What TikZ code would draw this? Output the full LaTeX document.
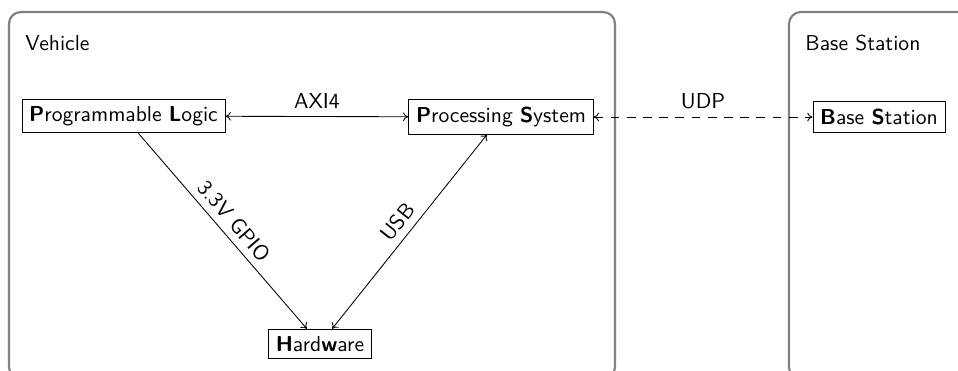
\documentclass[tikz,border=0pt]{standalone}
\usetikzlibrary{arrows.meta}
\begin{document}
\begin{tikzpicture}[x=0.463pt,y=-0.463pt,font=\sffamily,
  blockbox/.style={draw=black,line width=0.4pt,inner sep=3.33pt},
  groupbox/.style={draw=black!50,line width=1pt,rounded corners=5.5pt},
  grouplabel/.style={anchor=base west,inner sep=0pt},
  link/.style={line width=0.4pt,{To[length=2.5pt,width=4pt]}-{To[length=2.5pt,width=4pt]}},
  single/.style={line width=0.4pt,-{To[length=2.5pt,width=4pt]}}]
\useasboundingbox (0,0) rectangle (958,370);
\clip (0,0) rectangle (958,370);
\draw[groupbox] (9,12) rectangle (615,379);
\draw[groupbox] (789,12) rectangle (1100,379);
\node[grouplabel] (vlabel) at (25,50) {Vehicle};
\node[grouplabel] (blabel) at (805,50) {Base Station};
\node[blockbox] (pl) at (123.5,116) {\textbf{P}rogrammable \textbf{L}ogic};
\node[blockbox] (ps) at (501,117) {\textbf{P}rocessing \textbf{S}ystem};
\node[blockbox] (bs) at (879,117) {\textbf{B}ase \textbf{S}tation};
\node[blockbox] (hw) at (320,344) {\textbf{H}ard\textbf{w}are};
\draw[link] (pl) -- node[above] {AXI4} (ps);
\draw[link,dash pattern=on 4pt off 3.5pt] (ps) -- node[above] {UDP} (bs);
\draw[single] (pl) -- node[midway,above,sloped] {3.3V GPIO} (hw);
\draw[link] (hw) -- node[midway,above,sloped] {USB} (ps);
\end{tikzpicture}
\end{document}
